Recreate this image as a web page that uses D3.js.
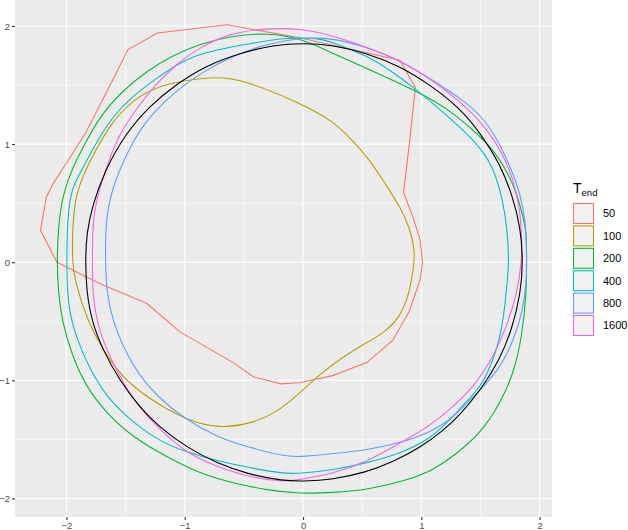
<!DOCTYPE html>
<html>
<head>
<meta charset="utf-8">
<script src="https://cdn.jsdelivr.net/npm/d3@7"></script>
<style>
  body { margin: 0; background: #fff; }
  text { font-family: "Liberation Sans", Arial, sans-serif; }
</style>
</head>
<body>
<div id="chart"></div>
<script>
// legend levels and colours
var levels = ['50', '100', '200', '400', '800', '1600'];
var colors = ['#F8766D', '#B79F00', '#00BA38', '#00BFC4', '#619CFF', '#F564E3'];
var xTicks = [-2, -1, 0, 1, 2];
var yTicks = [-2, -1, 0, 1, 2];
var xMinor = [-1.5, -0.5, 0.5, 1.5];
var yMinor = [-1.5, -0.5, 0.5, 1.5];
var xLimits = [-2.435, 2.105];
var yLimits = [-2.157, 2.22];

// closed curves, [x, y]
var t50 = [[-0.64,2.01],[-0.03,1.90],[0.82,1.71],[0.95,1.48],[0.90,1.01],[0.85,0.59],[0.93,0.38],[0.99,0.19],
  [1.01,0.0],[0.99,-0.15],[0.90,-0.41],[0.76,-0.66],[0.54,-0.85],[0.25,-0.96],[-0.03,-1.02],[-0.19,-1.03],
  [-0.42,-0.97],[-0.59,-0.85],[-1.04,-0.59],[-1.32,-0.35],[-1.72,-0.18],[-2.08,0.0],[-2.22,0.27],[-2.17,0.55],
  [-2.11,0.67],[-2.00,0.84],[-1.84,1.09],[-1.61,1.54],[-1.48,1.80],[-1.23,1.94]];
var t100 = [[-0.76,1.58],[-0.49,1.54],[-0.03,1.35],[0.25,1.20],[0.42,1.03],[0.57,0.86],[0.71,0.64],[0.82,0.47],
  [0.90,0.30],[0.95,0.08],[0.93,-0.07],[0.90,-0.26],[0.82,-0.47],[0.68,-0.60],[0.54,-0.68],[0.34,-0.80],
  [0.14,-0.95],[-0.03,-1.11],[-0.22,-1.27],[-0.42,-1.36],[-0.64,-1.40],[-0.87,-1.38],[-1.15,-1.25],[-1.44,-1.06],
  [-1.63,-0.85],[-1.83,-0.49],[-1.93,-0.15],[-1.95,0.0],[-1.95,0.25],[-1.93,0.53],[-1.86,0.75],[-1.63,1.18],
  [-1.44,1.37],[-1.23,1.50]];
var t200 = [[-2.08,0.0],[-2.07,0.30],[-2.03,0.58],[-1.95,0.80],[-1.84,1.01],[-1.72,1.23],[-1.55,1.43],[-1.32,1.62],
  [-1.10,1.75],[-0.87,1.85],[-0.59,1.92],[-0.30,1.94],[-0.03,1.90],[0.25,1.77],[0.54,1.64],[1.05,1.41],
  [1.30,1.24],[1.47,1.09],[1.61,0.95],[1.72,0.78],[1.81,0.58],[1.86,0.38],[1.89,0.25],[1.89,0.0],[1.89,-0.26],
  [1.85,-0.64],[1.78,-0.94],[1.67,-1.19],[1.50,-1.45],[1.30,-1.62],[1.10,-1.76],[0.90,-1.84],[0.54,-1.93],
  [0.25,-1.95],[-0.03,-1.96],[-0.30,-1.93],[-0.59,-1.87],[-0.87,-1.79],[-1.15,-1.65],[-1.44,-1.48],[-1.66,-1.28],
  [-1.83,-1.06],[-1.95,-0.80],[-2.04,-0.49],[-2.07,-0.24]];
var t400 = [[-2.00,0.0],[-1.99,0.42],[-1.95,0.64],[-1.87,0.78],[-1.74,1.03],[-1.61,1.23],[-1.46,1.39],[-1.21,1.58],
  [-0.98,1.73],[-0.73,1.80],[-0.45,1.85],[-0.17,1.90],[0.14,1.90],[0.25,1.86],[0.54,1.75],[0.76,1.61],
  [0.96,1.46],[1.16,1.29],[1.33,1.14],[1.50,0.97],[1.61,0.80],[1.69,0.53],[1.73,0.25],[1.74,0.0],[1.73,-0.13],
  [1.69,-0.55],[1.61,-0.83],[1.50,-1.06],[1.39,-1.17],[1.22,-1.36],[1.05,-1.51],[0.82,-1.62],[0.54,-1.70],
  [0.25,-1.76],[-0.03,-1.79],[-0.17,-1.79],[-0.45,-1.74],[-0.73,-1.68],[-0.98,-1.61],[-1.23,-1.51],[-1.49,-1.31],
  [-1.66,-1.14],[-1.80,-0.91],[-1.91,-0.66],[-1.99,-0.38]];
var t800 = [[-1.67,0.0],[-1.67,0.25],[-1.65,0.47],[-1.59,0.69],[-1.49,0.92],[-1.38,1.12],[-1.27,1.26],[-1.10,1.43],
  [-0.87,1.60],[-0.59,1.75],[-0.30,1.85],[-0.03,1.90],[0.25,1.90],[0.54,1.82],[0.82,1.71],[1.10,1.54],
  [1.39,1.35],[1.56,1.18],[1.69,0.95],[1.81,0.67],[1.86,0.47],[1.89,0.25],[1.89,0.0],[1.89,-0.15],[1.86,-0.41],
  [1.78,-0.66],[1.67,-0.89],[1.52,-1.06],[1.39,-1.19],[1.24,-1.34],[1.05,-1.45],[0.82,-1.53],[0.54,-1.59],
  [0.25,-1.62],[-0.03,-1.65],[-0.17,-1.64],[-0.45,-1.57],[-0.73,-1.48],[-1.01,-1.32],[-1.23,-1.14],[-1.40,-0.94],
  [-1.52,-0.72],[-1.61,-0.49],[-1.66,-0.26]];
var t1600 = [[-1.78,0.0],[-1.78,0.25],[-1.76,0.47],[-1.70,0.69],[-1.63,0.89],[-1.55,1.09],[-1.40,1.31],[-1.27,1.48],
  [-1.07,1.68],[-0.87,1.82],[-0.62,1.94],[-0.30,1.98],[-0.03,1.98],[0.25,1.92],[0.54,1.82],[0.82,1.71],
  [1.10,1.54],[1.39,1.31],[1.56,1.12],[1.69,0.92],[1.78,0.69],[1.83,0.47],[1.85,0.25],[1.85,0.0],[1.81,-0.26],
  [1.72,-0.55],[1.61,-0.80],[1.44,-1.06],[1.24,-1.25],[1.05,-1.40],[0.82,-1.53],[0.54,-1.69],[0.25,-1.79],
  [-0.03,-1.84],[-0.17,-1.86],[-0.45,-1.82],[-0.73,-1.73],[-0.98,-1.62],[-1.21,-1.42],[-1.44,-1.17],[-1.61,-0.85],
  [-1.72,-0.60],[-1.78,-0.30]];
var reference = [[-1.84,0.0],[-1.83,0.25],[-1.78,0.48],[-1.68,0.77],[-1.50,1.09],[-1.30,1.32],[-1.07,1.51],[-0.81,1.67],
  [-0.53,1.77],[-0.25,1.84],[0.0,1.855],[0.25,1.84],[0.54,1.77],[0.82,1.66],[1.09,1.49],[1.32,1.31],
  [1.51,1.08],[1.66,0.84],[1.77,0.57],[1.84,0.29],[1.86,0.0],[1.84,-0.26],[1.77,-0.56],[1.66,-0.83],
  [1.51,-1.07],[1.33,-1.29],[1.18,-1.43],[0.99,-1.57],[0.76,-1.69],[0.53,-1.78],[0.25,-1.84],[0.0,-1.855],
  [-0.17,-1.85],[-0.45,-1.80],[-0.73,-1.70],[-0.98,-1.57],[-1.21,-1.40],[-1.38,-1.23],[-1.55,-1.00],
  [-1.69,-0.75],[-1.79,-0.49],[-1.83,-0.24]];

var series = [t50, t100, t200, t400, t800, t1600];

var W = 628, H = 530;
var panel = { left: 15, right: 552, top: 0, bottom: 517 };

var svg = d3.select('#chart').append('svg')
    .attr('width', W)
    .attr('height', H);

var x = d3.scaleLinear().domain(xLimits).range([panel.left, panel.right]);
var y = d3.scaleLinear().domain(yLimits).range([panel.bottom, panel.top]);

// panel background
svg.append('rect')
    .attr('x', panel.left).attr('y', panel.top)
    .attr('width', panel.right - panel.left)
    .attr('height', panel.bottom - panel.top)
    .attr('fill', '#EBEBEB');

// grid
var grid = svg.append('g');
grid.selectAll('.vminor').data(xMinor).enter().append('line')
    .attr('x1', d => x(d)).attr('x2', d => x(d))
    .attr('y1', panel.top).attr('y2', panel.bottom)
    .attr('stroke', '#fff').attr('stroke-width', 0.55);
grid.selectAll('.hminor').data(yMinor).enter().append('line')
    .attr('y1', d => y(d)).attr('y2', d => y(d))
    .attr('x1', panel.left).attr('x2', panel.right)
    .attr('stroke', '#fff').attr('stroke-width', 0.55);
grid.selectAll('.vmajor').data(xTicks).enter().append('line')
    .attr('x1', d => x(d)).attr('x2', d => x(d))
    .attr('y1', panel.top).attr('y2', panel.bottom)
    .attr('stroke', '#fff').attr('stroke-width', 1.1);
grid.selectAll('.hmajor').data(yTicks).enter().append('line')
    .attr('y1', d => y(d)).attr('y2', d => y(d))
    .attr('x1', panel.left).attr('x2', panel.right)
    .attr('stroke', '#fff').attr('stroke-width', 1.1);

// curves: smoothed closed paths, the T=50 one keeps its corners
var smooth = d3.line()
    .x(d => x(d[0]))
    .y(d => y(d[1]))
    .curve(d3.curveBasisClosed);
var straight = d3.line()
    .x(d => x(d[0]))
    .y(d => y(d[1]))
    .curve(d3.curveLinearClosed);

series.forEach(function(s, i) {
    svg.append('path')
        .datum(s)
        .attr('d', i === 0 ? straight : smooth)
        .attr('fill', 'none')
        .attr('stroke', colors[i])
        .attr('stroke-width', 1.1);
});

svg.append('path')
    .datum(reference)
    .attr('d', smooth)
    .attr('fill', 'none')
    .attr('stroke', '#000')
    .attr('stroke-width', 1.1);

// axes
var xAxis = svg.append('g')
    .attr('transform', 'translate(0,' + panel.bottom + ')')
    .call(d3.axisBottom(x).tickValues(xTicks).tickSize(3).tickPadding(2).tickFormat(d3.format('d')));
var yAxis = svg.append('g')
    .attr('transform', 'translate(' + panel.left + ',0)')
    .call(d3.axisLeft(y).tickValues(yTicks).tickSize(3).tickPadding(2).tickFormat(d3.format('d')));

[xAxis, yAxis].forEach(function(a) {
    a.select('.domain').remove();
    a.selectAll('line').attr('stroke', '#333333').attr('stroke-width', 1.1);
    a.selectAll('text')
        .attr('fill', '#4D4D4D')
        .style('font-size', '9.5px')
        .style('font-family', '"Liberation Sans", Arial, sans-serif');
});

// legend
var legend = svg.append('g').attr('transform', 'translate(573,0)');
var title = legend.append('text')
    .attr('x', 0).attr('y', 193)
    .attr('fill', '#000')
    .style('font-size', '14px');
title.append('tspan').text('T');
title.append('tspan')
    .attr('dy', 3)
    .style('font-size', '9.5px')
    .text('end');

levels.forEach(function(lv, i) {
    var ky = 203 + i * 22.4;
    legend.append('rect')
        .attr('x', 0.5).attr('y', ky + 0.5)
        .attr('width', 20).attr('height', 20)
        .attr('fill', '#F2F2F2')
        .attr('stroke', colors[i])
        .attr('stroke-width', 1.1);
    legend.append('text')
        .attr('x', 30).attr('y', ky + 10.5)
        .attr('dy', '0.35em')
        .attr('fill', '#000')
        .style('font-size', '11px')
        .text(lv);
});
</script>
</body>
</html>
